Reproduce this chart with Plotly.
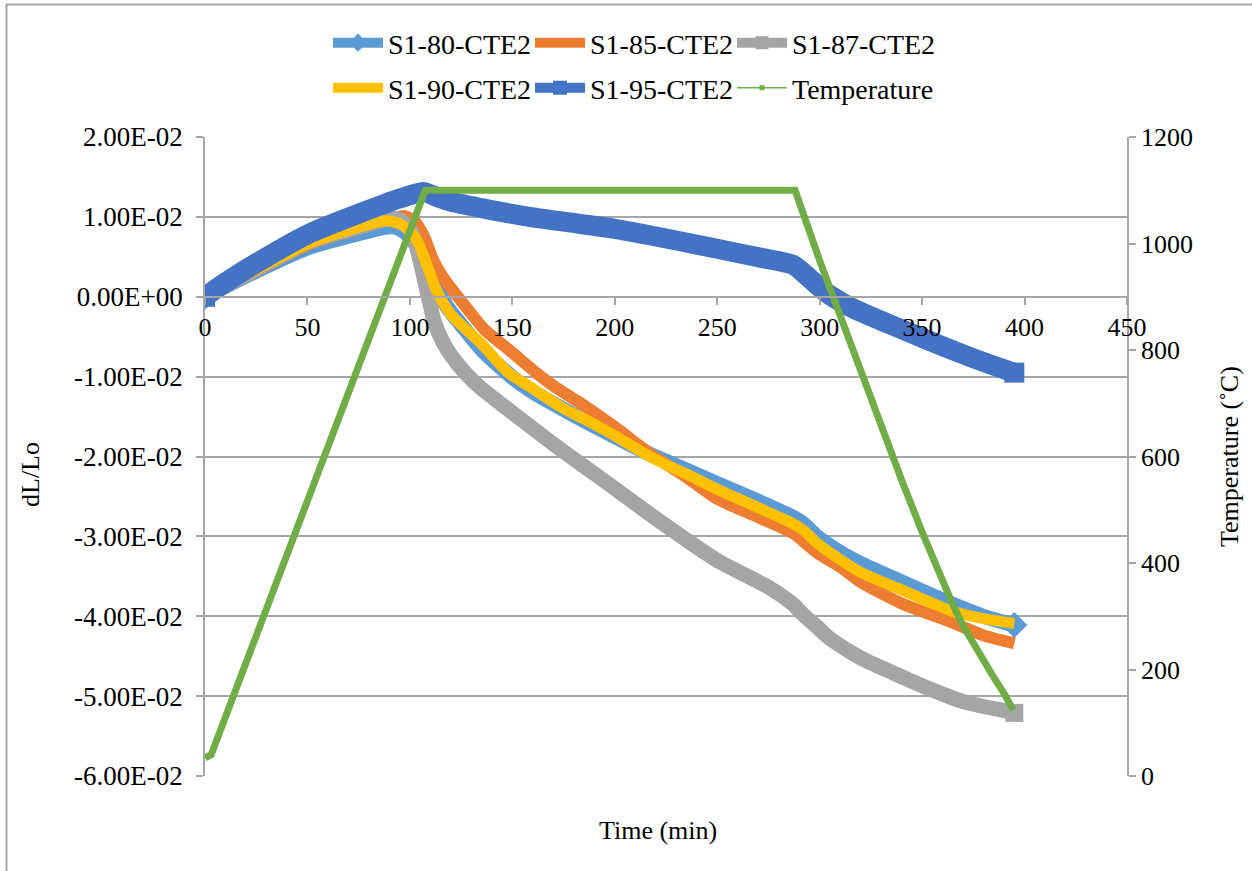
import plotly.graph_objects as go

# ---- dilatometry data: dL/Lo vs time for five specimens, plus furnace temperature ----
t_s80 = [0, 10, 25, 50, 75, 88, 93, 98, 103, 108, 113, 118, 125, 135, 150, 160, 175, 185, 200, 217,
         235, 250, 270, 287, 292, 299, 310, 320, 340, 364, 380, 395]
dl_s80 = [0, 0.0013, 0.0032, 0.0061, 0.0079, 0.0087, 0.0087, 0.0080, 0.0065, 0.0040, 0.0012, -0.0012,
          -0.0035, -0.0066, -0.0101, -0.0119, -0.0141, -0.0155, -0.0175, -0.0197,
          -0.0217, -0.0234, -0.0256, -0.0276, -0.0284, -0.0301, -0.0320, -0.0334, -0.0357, -0.0384,
          -0.0400, -0.0411]

t_s85 = [0, 10, 25, 50, 75, 90, 97, 102, 107, 111, 116, 120, 128, 136, 150, 164, 175, 185, 200, 217,
         235, 250, 270, 287, 292, 299, 310, 320, 340, 364, 380, 395]
dl_s85 = [0, 0.0013, 0.0032, 0.0065, 0.0085, 0.0097, 0.0101, 0.0095, 0.0075, 0.0048, 0.0025, 0.0011,
          -0.0015, -0.0040, -0.0070, -0.0100, -0.0120, -0.0136, -0.0163, -0.0196,
          -0.0226, -0.0253, -0.0276, -0.0296, -0.0306, -0.0321, -0.0338, -0.0357, -0.0384, -0.0407,
          -0.0424, -0.0434]

t_s87 = [0, 10, 25, 50, 75, 88, 93, 97, 101, 105, 107, 109, 112, 116, 120, 128, 135, 150, 173, 200,
         217, 250, 276, 287, 292, 299, 305, 320, 335, 350, 369, 380, 388, 395]
dl_s87 = [0, 0.0014, 0.0034, 0.0068, 0.0087, 0.0097, 0.0098, 0.0093, 0.0080, 0.0045, 0.0022, 0.0000,
          -0.0032, -0.0056, -0.0073, -0.0098, -0.0115, -0.0145, -0.0190, -0.0240,
          -0.0272, -0.0330, -0.0365, -0.0385, -0.0398, -0.0414, -0.0428, -0.0452, -0.0470, -0.0487,
          -0.0506, -0.0513, -0.0517, -0.0521]

t_s90 = [0, 10, 25, 50, 75, 88, 95, 100, 104, 108, 113, 120, 127, 135, 148, 160, 175, 185, 200, 217,
         235, 250, 270, 287, 292, 299, 310, 320, 340, 364, 380, 395]
dl_s90 = [0, 0.0014, 0.0034, 0.0066, 0.0087, 0.0095, 0.0091, 0.0082, 0.0068, 0.0042, 0.0008, -0.0022,
          -0.0040, -0.0059, -0.0095, -0.0115, -0.0140, -0.0153, -0.0174, -0.0200,
          -0.0222, -0.0241, -0.0264, -0.0284, -0.0292, -0.0309, -0.0329, -0.0345, -0.0367, -0.0393,
          -0.0403, -0.0409]

t_s95 = [0, 10, 25, 50, 75, 95, 107, 113, 120, 135, 156, 175, 200, 217, 250, 271, 287,
         292, 300, 305, 315, 330, 345, 360, 375, 388, 395]
dl_s95 = [0, 0.0018, 0.0042, 0.0078, 0.0104, 0.0123, 0.0131, 0.0125, 0.0119, 0.0111, 0.0101,
          0.0094, 0.0085, 0.0077, 0.0060, 0.0049, 0.0040,
          0.0030, 0.0012, 0.0002, -0.0013, -0.0030, -0.0046, -0.0062, -0.0077, -0.0089, -0.0095]

t_temp = [0, 3, 107.5, 288, 300, 310, 320, 330, 340, 350, 360, 365, 370, 375, 380, 385, 390, 394.5]
temp_c = [34, 40, 1100, 1100, 968, 864, 760, 657, 556, 458, 365, 322, 282, 248, 215, 185, 155, 124]

# axis tick labels
y1_ticks = [0.02, 0.01, 0.0, -0.01, -0.02, -0.03, -0.04, -0.05, -0.06]
y1_labels = ["2.00E-02", "1.00E-02", "0.00E+00", "-1.00E-02", "-2.00E-02",
             "-3.00E-02", "-4.00E-02", "-5.00E-02", "-6.00E-02"]

# ---- page geometry (pixels) ----
W, H = 1252, 871
ML, MR, MT, MB = 205, 125, 137, 95
PW, PH = W - ML - MR, H - MT - MB


def fx(px):
    return (px - ML) / PW


def fy(py):
    return (H - MB - py) / PH


def end_sizes(n, inner, outer):
    # markers stay inside the thick line except at both ends of a series
    return [outer] + [inner] * (n - 2) + [outer]


FONT = "Liberation Serif"
AX = "#a6a6a6"

# (name, x, y, colour, line width, marker symbol or None, end marker size, legend, key marker size)
series = [
    ("S1-80-CTE2", t_s80, dl_s80, "#5b9bd5", 15, "diamond", 20, "legend", 14),
    ("S1-85-CTE2", t_s85, dl_s85, "#ed7d31", 12, None, 0, "legend", 0),
    ("S1-87-CTE2", t_s87, dl_s87, "#a5a5a5", 15, "square", 18, "legend", 13),
    ("S1-90-CTE2", t_s90, dl_s90, "#ffc000", 11, None, 0, "legend2", 0),
    ("S1-95-CTE2", t_s95, dl_s95, "#4472c4", 20, "square", 20, "legend2", 14),
]

fig = go.Figure()

for name, xs, ys, col, lw, sym, msize, leg, ksize in series:
    if sym:
        fig.add_trace(go.Scatter(
            x=xs, y=ys, name=name, mode="lines+markers", showlegend=False,
            line=dict(color=col, width=lw, shape="spline", smoothing=0.7),
            marker=dict(symbol=sym, size=end_sizes(len(xs), 8, msize), color=col,
                        opacity=1, line=dict(width=0))))
    else:
        fig.add_trace(go.Scatter(
            x=xs, y=ys, name=name, mode="lines", showlegend=False,
            line=dict(color=col, width=lw, shape="spline", smoothing=0.7)))

fig.add_trace(go.Scatter(
    x=t_temp, y=temp_c, name="Temperature", mode="lines", yaxis="y2", showlegend=False,
    line=dict(color="#70ad47", width=7)))

# legend keys (Excel-style: thick line with the series marker in the middle)
for name, xs, ys, col, lw, sym, msize, leg, ksize in series:
    if sym:
        fig.add_trace(go.Scatter(
            x=[None], y=[None], name=name, mode="lines+markers", legend=leg,
            line=dict(color=col, width=10),
            marker=dict(symbol=sym, size=ksize, color=col, line=dict(width=0))))
    else:
        fig.add_trace(go.Scatter(
            x=[None], y=[None], name=name, mode="lines", legend=leg,
            line=dict(color=col, width=10)))
fig.add_trace(go.Scatter(
    x=[None], y=[None], name="Temperature", mode="lines+markers", yaxis="y2", legend="legend2",
    line=dict(color="#70ad47", width=1.5),
    marker=dict(symbol="square", size=5, color="#70ad47", line=dict(width=0))))

legend_common = dict(orientation="h", xanchor="left", yanchor="middle",
                     font=dict(family=FONT, size=28, color="#000000"),
                     bgcolor="rgba(0,0,0,0)", entrywidth=137, entrywidthmode="pixels",
                     itemwidth=50, tracegroupgap=0, itemsizing="trace")

tickfont = dict(family=FONT, size=26, color="#000000")

fig.update_layout(
    width=W, height=H,
    margin=dict(l=ML, r=MR, t=MT, b=MB),
    paper_bgcolor="white", plot_bgcolor="white",
    font=dict(family=FONT, size=26, color="#000000"),
    xaxis=dict(range=[0, 450], dtick=50, tick0=0, anchor="free", position=0.75,
               showline=True, linecolor=AX, linewidth=1.5, ticks="outside", ticklen=7,
               tickcolor=AX, tickwidth=1.5, showgrid=False, zeroline=False, tickfont=tickfont),
    yaxis=dict(range=[-0.06, 0.02], tickvals=y1_ticks, ticktext=y1_labels,
               showline=True, linecolor=AX, linewidth=1.5, ticks="outside", ticklen=7,
               tickcolor=AX, tickwidth=1.5, showgrid=True, gridcolor=AX, gridwidth=1.5,
               zeroline=False, ticklabelstandoff=8,
               tickfont=dict(family=FONT, size=27, color="#000000")),
    yaxis2=dict(range=[0, 1200], dtick=200, tick0=0, overlaying="y", side="right", anchor="x",
                showline=True, linecolor=AX, linewidth=1.5, ticks="outside", ticklen=7,
                tickcolor=AX, tickwidth=1.5, showgrid=False, zeroline=False, tickfont=tickfont),
    legend=dict(x=fx(328), y=fy(43), **legend_common),
    legend2=dict(x=fx(328), y=fy(88), **legend_common),
    showlegend=True,
)

# axis titles
fig.add_annotation(text="dL/Lo", x=fx(30), y=fy(475), xref="paper", yref="paper",
                   xanchor="center", yanchor="middle",
                   showarrow=False, textangle=-90, font=dict(family=FONT, size=26))
fig.add_annotation(text="Temperature (\u02daC)", x=fx(1229), y=fy(457), xref="paper", yref="paper",
                   xanchor="center", yanchor="middle",
                   showarrow=False, textangle=-90, font=dict(family=FONT, size=26))
fig.add_annotation(text="Time (min)", x=fx(658), y=fy(831), xref="paper", yref="paper",
                   xanchor="center", yanchor="middle",
                   showarrow=False, font=dict(family=FONT, size=26))

# chart frame
fig.add_shape(type="rect", xref="paper", yref="paper",
              x0=fx(6.5), x1=fx(1270), y0=fy(890), y1=fy(4.5),
              line=dict(color=AX, width=2), fillcolor="rgba(0,0,0,0)", layer="below")

fig.write_html("out.html")
